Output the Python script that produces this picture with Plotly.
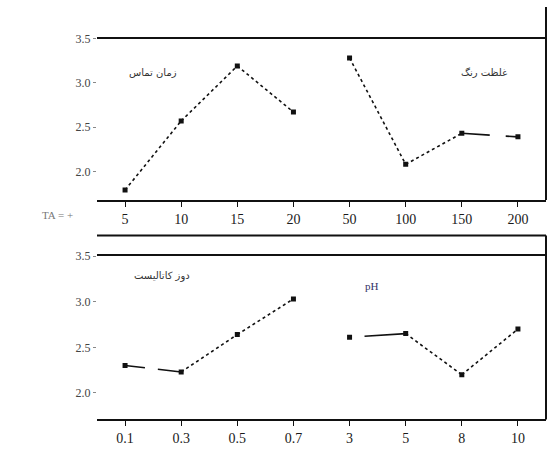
import plotly.graph_objects as go

# Factor levels and mean responses (main effects)
contact_time_levels = ["5", "10", "15", "20"]
contact_time_means = [1.79, 2.57, 3.19, 2.67]

dye_conc_levels = ["50", "100", "150", "200"]
dye_conc_means = [3.28, 2.08, 2.43, 2.39]

catalyst_levels = ["0.1", "0.3", "0.5", "0.7"]
catalyst_means = [2.30, 2.23, 2.64, 3.03]

ph_levels = ["3", "5", "8", "10"]
ph_means = [2.61, 2.65, 2.20, 2.70]

y_ticks = [2.0, 2.5, 3.0, 3.5]
y_tick_text = ["2.0", "2.5", "3.0", "3.5"]

factor_names = ["زمان تماس", "غلظت رنگ", "دوز کاتالیست", "pH"]
side_label = "TA = +"

W, H = 548, 450
fig = go.Figure()

def px_x(p):
    return p / W

def px_y(p):
    return 1 - p / H

panels = [
    ("x", "y", (contact_time_levels, contact_time_means),
     (dye_conc_levels, dye_conc_means)),
    ("x2", "y2", (catalyst_levels, catalyst_means),
     (ph_levels, ph_means)),
]

# Segments drawn with a broken solid stroke instead of dots
solid_segments = {
    ("x", 1, 2): "28px,16px,12px",
    ("x2", 0, 0): "20px,13px,30px",
    ("x2", 1, 0): "2px,13px,50px",
}

black = "#111111"
for xa, ya, left, right in panels:
    for gi, (levels, means) in enumerate([left, right]):
        xs = [gi * len(levels) + i for i in range(len(levels))]
        for si in range(len(xs) - 1):
            dash = solid_segments.get((xa, gi, si), "dot")
            fig.add_trace(go.Scatter(
                x=xs[si:si + 2], y=means[si:si + 2], xaxis=xa, yaxis=ya,
                mode="lines", line=dict(color=black, width=1.6, dash=dash),
                showlegend=False, hoverinfo="skip"))
        fig.add_trace(go.Scatter(
            x=xs, y=means, xaxis=xa, yaxis=ya, mode="markers",
            marker=dict(symbol="square", size=5, color=black),
            showlegend=False))

all_top = contact_time_levels + dye_conc_levels
all_bot = catalyst_levels + ph_levels

axis_common = dict(
    range=[-0.5, 7.5], showgrid=False, zeroline=False,
    showline=True, linecolor=black, linewidth=2, mirror=True,
    ticks="outside", ticklen=5, tickcolor=black, tickwidth=1,
    tickfont=dict(family="Liberation Serif", size=14, color="#1a1a1a"),
    domain=[px_x(97), px_x(546)],
)
yaxis_common = dict(
    showgrid=False, zeroline=False, showline=False,
    ticks="outside", ticklen=3, tickcolor="#888888",
    tickvals=y_ticks, ticktext=y_tick_text,
    tickfont=dict(family="Liberation Serif", size=12, color="#444444"),
)

fig.update_layout(
    width=W, height=H, margin=dict(l=0, r=0, t=0, b=0),
    paper_bgcolor="white", plot_bgcolor="white",
    xaxis=dict(axis_common, tickvals=list(range(8)), ticktext=all_top,
               anchor="y"),
    yaxis=dict(yaxis_common, range=[1.678, 3.5],
               domain=[px_y(196), px_y(32)], anchor="x"),
    xaxis2=dict(axis_common, tickvals=list(range(8)), ticktext=all_bot,
                anchor="y2"),
    yaxis2=dict(yaxis_common, range=[1.709, 3.5],
                domain=[px_y(419), px_y(253)], anchor="x2"),
)

# Frame pieces: right borders and the header strip of the lower panel
frame = dict(color=black, width=2)
shapes = [
    dict(type="line", xref="paper", yref="paper",
         x0=px_x(546), x1=px_x(546), y0=px_y(0), y1=px_y(196), line=frame),
    dict(type="line", xref="paper", yref="paper",
         x0=px_x(97), x1=px_x(546), y0=px_y(232), y1=px_y(232), line=frame),
    dict(type="line", xref="paper", yref="paper",
         x0=px_x(546), x1=px_x(546), y0=px_y(232), y1=px_y(419), line=frame),
]
fig.update_layout(shapes=shapes)

ann_font = dict(family="DejaVu Sans", size=10, color="#333333")
annotations = [
    dict(x=0.5, y=3.12, xref="x", yref="y", text=factor_names[0],
         showarrow=False, font=ann_font),
    dict(x=6.4, y=3.12, xref="x", yref="y", text=factor_names[1],
         showarrow=False, font=ann_font),
    dict(x=0.65, y=3.28, xref="x2", yref="y2", text=factor_names[2],
         showarrow=False, font=ann_font),
    dict(x=4.4, y=3.17, xref="x2", yref="y2", text=factor_names[3],
         showarrow=False,
         font=dict(family="Liberation Serif", size=11, color="#333366")),
    dict(x=px_x(40), y=px_y(211), xref="paper", yref="paper",
         text=side_label, showarrow=False,
         font=dict(family="Liberation Serif", size=11, color="#777777")),
]
fig.update_layout(annotations=annotations)

fig.write_html("out.html")
